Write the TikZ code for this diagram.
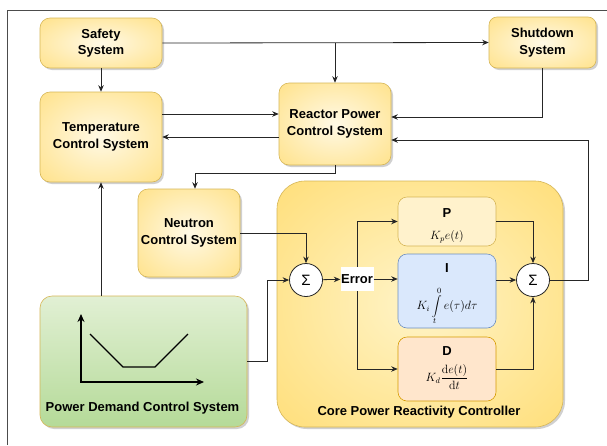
\documentclass[tikz,border=0pt]{standalone}
\usepackage[no-math]{fontspec}
\setmainfont{Liberation Sans}
\usetikzlibrary{arrows.meta,shadows,calc}
\definecolor{yedge}{HTML}{FFD966}
\definecolor{ycenter}{HTML}{FFF9E6}
\definecolor{bcenter}{HTML}{FFF4C8}
\definecolor{yborder}{HTML}{D6B656}
\definecolor{gtop}{HTML}{F8FBF2}
\definecolor{gbot}{HTML}{9ECF7A}
\definecolor{pfill}{HTML}{FFF2CC}
\definecolor{ifill}{HTML}{DAE8FC}
\definecolor{iborder}{HTML}{6C8EBF}
\definecolor{dfill}{HTML}{FFE6CC}
\definecolor{dborder}{HTML}{D79B00}
\pgfdeclareradialshading{smallrad}{\pgfpoint{0bp}{0bp}}{color(0bp)=(ycenter); color(50bp)=(yedge); color(72bp)=(yedge)}
\pgfdeclareradialshading{bigrad}{\pgfpoint{0bp}{0bp}}{color(0bp)=(bcenter); color(45bp)=(yedge); color(72bp)=(yedge)}
\pgfdeclareverticalshading{greenshade}{100bp}{color(0bp)=(gbot); color(100bp)=(gtop)}
\begin{document}
\begin{tikzpicture}[x=1pt,y=-1pt,
  conn/.style={draw=black!85, line width=0.8pt, -{Stealth[length=6.5pt,width=5.5pt]}},
  shadowed/.style={drop shadow={shadow xshift=2pt,shadow yshift=-2pt,opacity=0.3,fill=black!60}},
  lab/.style={font=\bfseries\fontsize{13}{16.5}\selectfont, align=center, inner sep=0pt},
  ybox/.style={lab, shadowed, draw=yborder, line width=0.6pt, rounded corners=10pt, shade, shading=smallrad},
  pidbox/.style={draw=#1, line width=0.6pt, rounded corners=9pt, minimum width=98pt, inner sep=0pt},
  sumnode/.style={circle, draw=black!85, line width=0.8pt, fill=white, minimum size=33pt, inner sep=0pt, font=\fontsize{15}{15}\selectfont},
  mathlab/.style={font=\fontsize{11.5}{13.5}\selectfont, inner sep=0pt}
]
\useasboundingbox (0,0) rectangle (607,445);
\fill[white] (0,0) rectangle (607,445);
\draw[black!70, line width=0.8pt] (7,445) -- (7,10) -- (607,10);

% big controller box
\node[shadowed, draw=yborder, line width=0.6pt, rounded corners=28pt, shade, shading=bigrad,
      minimum width=286pt, minimum height=246pt, inner sep=0pt] (cprc) at (420,304) {};
\node[lab] (cprclabel) at (419,412) {Core Power Reactivity Controller};

% yellow boxes
\node[ybox, minimum width=122pt, minimum height=50pt] (safety) at (101,43) {Safety\\System};
\node[ybox, minimum width=122pt, minimum height=90pt] (temp) at (101,137) {Temperature\\Control System};
\node[ybox, minimum width=112pt, minimum height=82pt] (reactor) at (335,124) {Reactor Power\\Control System};
\node[ybox, rounded corners=8pt, minimum width=107pt, minimum height=51pt] (shutdown) at (542.5,42.5) {Shutdown\\System};
\node[ybox, minimum width=102pt, minimum height=88pt] (neutron) at (189,233) {Neutron\\Control System};

% power demand box
\node[shadowed, draw=yborder, line width=0.6pt, rounded corners=12pt, shade, shading=greenshade,
      minimum width=207pt, minimum height=131pt, inner sep=0pt] (pd) at (143.5,361.5) {};
\node[lab] (pdlabel) at (142.5,408) {Power Demand Control System};
\draw[line width=1.6pt, {Stealth[length=8pt,width=7pt]}-{Stealth[length=8pt,width=7pt]}] (81,314) -- (81,382) -- (204,382);
\draw[line width=1.3pt] (90,334) -- (123,367) -- (155,367) -- (188,334);

% PID boxes
\node[pidbox=yborder, fill=pfill, minimum height=49pt] (pbox) at (447,221.5) {};
\node[lab] (plabel) at (447,213) {P};
\node[mathlab] (pform) at (447,237) {$K_pe(t)$};
\node[pidbox=iborder, fill=ifill, minimum height=74pt] (ibox) at (447,291) {};
\node[lab] (ilabel) at (447,268) {I};
\node[mathlab] (iform) at (447,306) {$\displaystyle K_i\int\limits_t^0 e(\tau)d\tau$};
\node[pidbox=dborder, fill=dfill, minimum height=64pt] (dbox) at (447,369) {};
\node[lab] (dlabel) at (447,351) {D};
\node[mathlab] (dform) at (447,377) {$\displaystyle K_d\frac{\mathrm{d}e(t)}{\mathrm{d}t}$};

% summing junctions and error
\node[sumnode] (sum1) at (306,280) {Σ};
\node[sumnode] (sum2) at (533,280) {Σ};
\node[lab, fill=white, minimum width=33pt, minimum height=24pt] (error) at (357,279) {Error};

% connectors
\draw[conn] (safety) -- (temp);
\draw[conn] (safety.east) -- (shutdown.west);
\draw[conn] (safety.east -| reactor.north) -- (reactor.north);
\draw[conn] ([yshift=23pt]temp.east) -- ([yshift=23pt]temp.east -| reactor.west);
\draw[conn] (reactor.west |- temp.east) -- (temp.east);
\draw[conn] (shutdown.south) |- ([yshift=7pt]reactor.east);
\draw[conn] (sum2.east) -- ++(38,0) |- ([yshift=-16pt]reactor.east);
\draw[conn] (reactor.south) -- ++(0,8) -| ([xshift=6pt]neutron.north);
\draw[conn] (pd.north -| temp.south) -- (temp.south);
\draw[conn] (neutron.east) -| (sum1.north);
\draw[conn] (pd.east) -- ++(20,0) |- (sum1.west);
\draw[conn] (sum1) -- (error);
\draw[conn] (error.north) |- (pbox.west);
\draw[conn] (error.south) |- (dbox.west);
\draw[conn] (error.east) -- (error.east -| ibox.west);
\draw[conn] (pbox.east) -| (sum2.north);
\draw[conn] (ibox.east |- sum2.west) -- (sum2.west);
\draw[conn] (dbox.east) -| (sum2.south);
\end{tikzpicture}
\end{document}
